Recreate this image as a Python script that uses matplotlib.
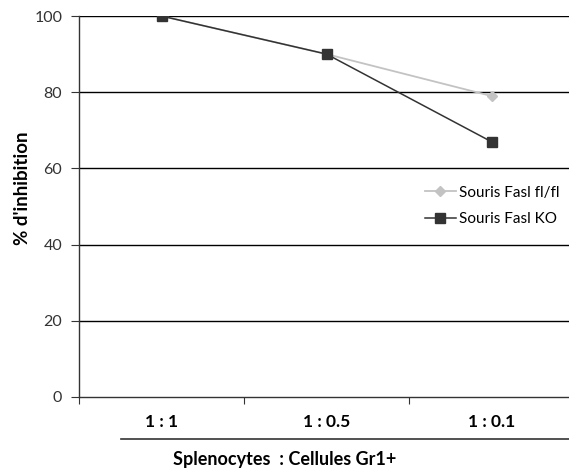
import matplotlib
matplotlib.use("Agg")
import matplotlib.pyplot as plt
from matplotlib.lines import Line2D

categories = ["1 : 1", "1 : 0.5", "1 : 0.1"]
fl_values = [100, 90, 79]
ko_values = [100, 90, 67]
series_names = ["Souris Fasl fl/fl", "Souris Fasl KO"]
yticks = [0, 20, 40, 60, 80, 100]

plt.rcParams['font.family'] = ['Lato', 'DejaVu Sans']

W, H = 569, 470
fig = plt.figure(figsize=(W/100, H/100), dpi=100)
ax = fig.add_axes([79/W, 1-397/H, (574-79)/W, (397-16)/H])

x = list(range(len(categories)))
ax.plot(x, fl_values, color="#c3c3c3", marker="D", markersize=5, lw=1.3,
        label=series_names[0], zorder=3)
ax.plot(x, ko_values, color="#333333", marker="s", markersize=7, lw=1.1,
        label=series_names[1], zorder=4)

ax.set_xlim(-0.5, 2.5)
ax.set_ylim(0, 100)
ax.set_yticks(yticks)
ax.set_yticklabels([str(v) for v in yticks], fontsize=11.5, color="#333333")
for v in yticks[1:]:
    ax.axhline(v, color="black", lw=1.0, zorder=1)

ax.set_xticks([-0.5, 0.5, 1.5, 2.5])
ax.set_xticklabels([])
ax.set_xticks(x, minor=True)
ax.set_xticklabels(categories, minor=True, fontsize=12.5, fontweight="bold")
ax.tick_params(axis="x", which="minor", length=0, pad=12)
ax.tick_params(axis="x", which="major", length=5, direction="out", color="#333333")
ax.tick_params(axis="y", length=6, direction="out", color="#333333", pad=6)

for s in ["top", "right"]:
    ax.spines[s].set_visible(False)
for s in ["left", "bottom"]:
    ax.spines[s].set_color("#333333")
    ax.spines[s].set_linewidth(1.0)

fig.text(23/W, 1-188/H, "% d'inhibition", fontsize=13.5, fontweight="bold",
         rotation=90, ha="center", va="center")

fig.add_artist(Line2D([121/W, 1.0], [1-439/H, 1-439/H], color="#333333", lw=1.2,
                      transform=fig.transFigure))
fig.text(285/W, 1-460/H, "Splenocytes  : Cellules Gr1+", fontsize=13,
         fontweight="bold", ha="center", va="center")

leg = ax.legend(loc="center left", bbox_to_anchor=(419/W, 1-206/H),
                bbox_transform=fig.transFigure, frameon=True, fontsize=11,
                handlelength=2.0, handletextpad=0.25, labelspacing=0.85,
                borderpad=0.2, borderaxespad=0.2)
leg.get_frame().set_facecolor("white")
leg.get_frame().set_edgecolor("white")
leg.get_frame().set_alpha(1)

fig.savefig("out.png", dpi=100)
